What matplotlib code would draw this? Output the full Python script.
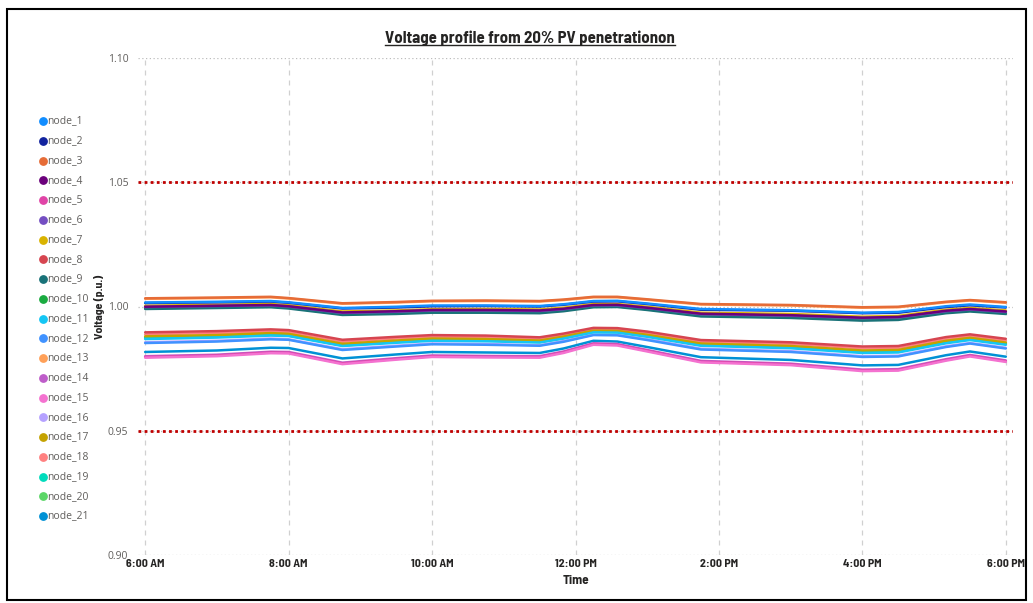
import matplotlib
matplotlib.use("Agg")
import matplotlib.pyplot as plt
from matplotlib import font_manager
from matplotlib.lines import Line2D
from matplotlib.patches import Rectangle

# Times of the readings (hh:mm)
times = ["06:00", "07:00", "07:45", "08:00", "08:45", "09:30", "10:00", "10:45", "11:30", "11:50",
         "12:15", "12:35", "13:00", "13:45", "15:00", "16:00", "16:30", "17:10", "17:30", "18:00"]

# Voltage readings per node (p.u.)
node_1 = [1.0016, 1.0019, 1.0022, 1.0017, 0.9994, 0.9999, 1.0004, 1.0004, 1.0002, 1.0009, 1.0022, 1.0023, 1.0012, 0.9990, 0.9985, 0.9975, 0.9978, 1.0001, 1.0008, 0.9998]
node_2 = [1.0014, 1.0017, 1.0020, 1.0015, 0.9992, 0.9996, 1.0001, 1.0002, 1.0000, 1.0007, 1.0020, 1.0021, 1.0010, 0.9987, 0.9983, 0.9973, 0.9975, 0.9998, 1.0005, 0.9996]
node_3 = [1.0033, 1.0036, 1.0039, 1.0034, 1.0013, 1.0018, 1.0023, 1.0024, 1.0022, 1.0028, 1.0039, 1.0039, 1.0029, 1.0010, 1.0006, 0.9997, 0.9999, 1.0019, 1.0026, 1.0017]
node_4 = [0.9999, 1.0003, 1.0006, 1.0001, 0.9976, 0.9981, 0.9986, 0.9986, 0.9984, 0.9991, 1.0006, 1.0007, 0.9995, 0.9971, 0.9965, 0.9955, 0.9958, 0.9983, 0.9990, 0.9980]
node_5 = [0.9797, 0.9803, 0.9815, 0.9814, 0.9771, 0.9789, 0.9800, 0.9798, 0.9797, 0.9816, 0.9849, 0.9846, 0.9822, 0.9778, 0.9767, 0.9743, 0.9745, 0.9785, 0.9802, 0.9780]
node_6 = [0.9998, 1.0002, 1.0005, 1.0000, 0.9974, 0.9979, 0.9984, 0.9984, 0.9982, 0.9989, 1.0005, 1.0005, 0.9994, 0.9969, 0.9963, 0.9953, 0.9956, 0.9981, 0.9988, 0.9978]
node_7 = [1.0003, 1.0007, 1.0010, 1.0005, 0.9980, 0.9984, 0.9989, 0.9990, 0.9988, 0.9995, 1.0010, 1.0010, 0.9999, 0.9975, 0.9970, 0.9959, 0.9962, 0.9987, 0.9994, 0.9984]
node_8 = [0.9896, 0.9901, 0.9908, 0.9905, 0.9866, 0.9878, 0.9885, 0.9883, 0.9876, 0.9891, 0.9914, 0.9913, 0.9899, 0.9865, 0.9856, 0.9839, 0.9841, 0.9877, 0.9888, 0.9870]
node_9 = [0.9990, 0.9994, 0.9997, 0.9992, 0.9966, 0.9970, 0.9975, 0.9975, 0.9973, 0.9981, 0.9997, 0.9998, 0.9986, 0.9960, 0.9954, 0.9943, 0.9946, 0.9973, 0.9980, 0.9970]
node_10 = [0.9993, 0.9997, 1.0000, 0.9995, 0.9969, 0.9973, 0.9978, 0.9978, 0.9976, 0.9984, 1.0000, 1.0001, 0.9989, 0.9963, 0.9958, 0.9947, 0.9950, 0.9976, 0.9983, 0.9973]
node_11 = [0.9869, 0.9875, 0.9883, 0.9881, 0.9841, 0.9854, 0.9862, 0.9860, 0.9855, 0.9871, 0.9896, 0.9895, 0.9878, 0.9842, 0.9832, 0.9813, 0.9815, 0.9852, 0.9865, 0.9846]
node_12 = [0.9853, 0.9859, 0.9868, 0.9866, 0.9825, 0.9839, 0.9848, 0.9846, 0.9842, 0.9858, 0.9885, 0.9884, 0.9865, 0.9827, 0.9817, 0.9797, 0.9799, 0.9837, 0.9851, 0.9831]
node_13 = [1.0031, 1.0034, 1.0037, 1.0032, 1.0011, 1.0016, 1.0021, 1.0022, 1.0020, 1.0026, 1.0037, 1.0037, 1.0027, 1.0008, 1.0004, 0.9995, 0.9997, 1.0017, 1.0024, 1.0015]
node_14 = [0.9800, 0.9806, 0.9818, 0.9817, 0.9774, 0.9792, 0.9803, 0.9801, 0.9800, 0.9819, 0.9852, 0.9849, 0.9825, 0.9781, 0.9770, 0.9746, 0.9748, 0.9788, 0.9805, 0.9783]
node_15 = [0.9794, 0.9800, 0.9812, 0.9811, 0.9768, 0.9786, 0.9797, 0.9795, 0.9794, 0.9813, 0.9846, 0.9843, 0.9819, 0.9775, 0.9764, 0.9740, 0.9742, 0.9782, 0.9799, 0.9777]
node_16 = [0.9856, 0.9862, 0.9871, 0.9868, 0.9828, 0.9842, 0.9851, 0.9849, 0.9844, 0.9861, 0.9887, 0.9886, 0.9868, 0.9830, 0.9820, 0.9800, 0.9802, 0.9840, 0.9853, 0.9834]
node_17 = [0.9880, 0.9885, 0.9893, 0.9890, 0.9850, 0.9863, 0.9871, 0.9869, 0.9863, 0.9879, 0.9903, 0.9902, 0.9886, 0.9851, 0.9841, 0.9823, 0.9825, 0.9862, 0.9874, 0.9855]
node_18 = [0.9888, 0.9893, 0.9900, 0.9897, 0.9858, 0.9871, 0.9878, 0.9876, 0.9869, 0.9885, 0.9909, 0.9907, 0.9893, 0.9858, 0.9849, 0.9831, 0.9833, 0.9869, 0.9881, 0.9863]
node_19 = [0.9876, 0.9881, 0.9889, 0.9886, 0.9846, 0.9860, 0.9867, 0.9865, 0.9860, 0.9875, 0.9900, 0.9899, 0.9883, 0.9847, 0.9838, 0.9819, 0.9821, 0.9858, 0.9870, 0.9851]
node_20 = [0.9873, 0.9878, 0.9886, 0.9883, 0.9843, 0.9857, 0.9865, 0.9863, 0.9857, 0.9873, 0.9898, 0.9897, 0.9881, 0.9844, 0.9835, 0.9816, 0.9818, 0.9855, 0.9868, 0.9849]
node_21 = [0.9817, 0.9823, 0.9834, 0.9833, 0.9791, 0.9807, 0.9817, 0.9815, 0.9813, 0.9831, 0.9862, 0.9859, 0.9837, 0.9796, 0.9785, 0.9763, 0.9765, 0.9804, 0.9819, 0.9798]

series = [node_1, node_2, node_3, node_4, node_5, node_6, node_7, node_8, node_9, node_10, node_11,
          node_12, node_13, node_14, node_15, node_16, node_17, node_18, node_19, node_20, node_21]
names = ["node_%d" % (i + 1) for i in range(len(series))]
colors = ["#118DFF", "#12239E", "#E66C37", "#6B007B", "#E044A7", "#744EC2", "#D9B300",
          "#D64550", "#197278", "#1AAB40", "#15C6F4", "#4092FF", "#FFA058", "#BE5DC9",
          "#F472D0", "#B5A1FF", "#C4A200", "#FF8080", "#00DBBC", "#5BD667", "#0091D5"]

limits = [1.05, 0.95]
x_ticks = [6, 8, 10, 12, 14, 16, 18]
x_labels = ["6:00 AM", "8:00 AM", "10:00 AM", "12:00 PM", "2:00 PM", "4:00 PM", "6:00 PM"]
y_ticks = [0.90, 0.95, 1.00, 1.05, 1.10]

hours = [int(t[:2]) + int(t[3:]) / 60 for t in times]

# pick a narrow (DIN-like) font if one is around, else Roboto
installed = {f.name for f in font_manager.fontManager.ttflist}
narrow = "Roboto"
for cand in ["D-DIN", "DIN Alternate", "Barlow Semi Condensed", "Roboto Condensed",
             "Open Sans Condensed", "PT Sans Narrow", "Liberation Sans Narrow"]:
    if cand in installed:
        narrow = cand
        break
body = "Open Sans" if "Open Sans" in installed else "DejaVu Sans"
plt.rcParams["font.family"] = [body, "DejaVu Sans"]

W, H = 1033, 603
fig = plt.figure(figsize=(W / 100, H / 100), dpi=100)
ax = fig.add_axes([138 / W, 1 - 555 / H, (1013 - 138) / W, (555 - 58) / H])

# grid
for yt in y_ticks:
    ax.axhline(yt, color="#BDBDBD", lw=0.9, ls=(0, (1, 2)), zorder=1)
for xt in x_ticks:
    ax.axvline(xt, color="#D0D0D0", lw=0.9, ls=(0, (4, 4)), zorder=1)

# later nodes underneath, node_15 kept on top of node_5
order = [k for k in range(len(series) - 1, -1, -1) if k != 14] + [14]
for z, k in enumerate(order):
    ax.plot(hours, series[k], color=colors[k], lw=1.8, zorder=3 + z * 0.01,
            solid_capstyle="round")

for lim in limits:
    ax.axhline(lim, color="#C00000", lw=2.0, ls=(0, (1, 1.2)), zorder=4)

ax.set_xlim(5.9, 18.1)
ax.set_ylim(0.90, 1.10)
ax.set_yticks(y_ticks)
ax.set_yticklabels(["%.2f" % v for v in y_ticks], fontsize=7.5, color="#605E5C")
ax.set_xticks(x_ticks)
ax.set_xticklabels(x_labels, fontsize=8.5, fontweight="bold", color="#252423", family=narrow)
ax.tick_params(length=0, pad=3)
ax.tick_params(axis="y", pad=7)
for s in ax.spines.values():
    s.set_visible(False)

ax.set_xlabel("Time", fontsize=9.5, fontweight="bold", color="#252423", labelpad=4, family=narrow)
ax.set_ylabel("Voltage (p.u.)", fontsize=8.5, fontweight="bold", color="#252423", labelpad=2,
              family=narrow)

title = fig.text(530 / W, 1 - 38 / H, "Voltage profile from 20% PV penetrationon",
                 fontsize=12, fontweight="bold", color="#252423", ha="center", va="center",
                 family=narrow)

# legend
for i, (name, c) in enumerate(zip(names, colors)):
    y = 1 - (121 + i * 19.75) / H
    fig.add_artist(Line2D([42.5 / W], [y], marker="o", ms=5.3, color=c, ls="none"))
    fig.text(47.5 / W, y, name, fontsize=7.5, color="#605E5C", va="center", ha="left")

# outer frame
fig.add_artist(Rectangle((7 / W, 1 - 600 / H), (1026 - 7) / W, (600 - 9) / H,
                         transform=fig.transFigure, fill=False, ec="black", lw=1.5))

# underline the title
fig.canvas.draw()
bb = title.get_window_extent()
fig.add_artist(Line2D([bb.x0 / W, bb.x1 / W], [(bb.y0 + 1) / H, (bb.y0 + 1) / H],
                      color="#252423", lw=1.0))

fig.savefig("out.png", dpi=100)
